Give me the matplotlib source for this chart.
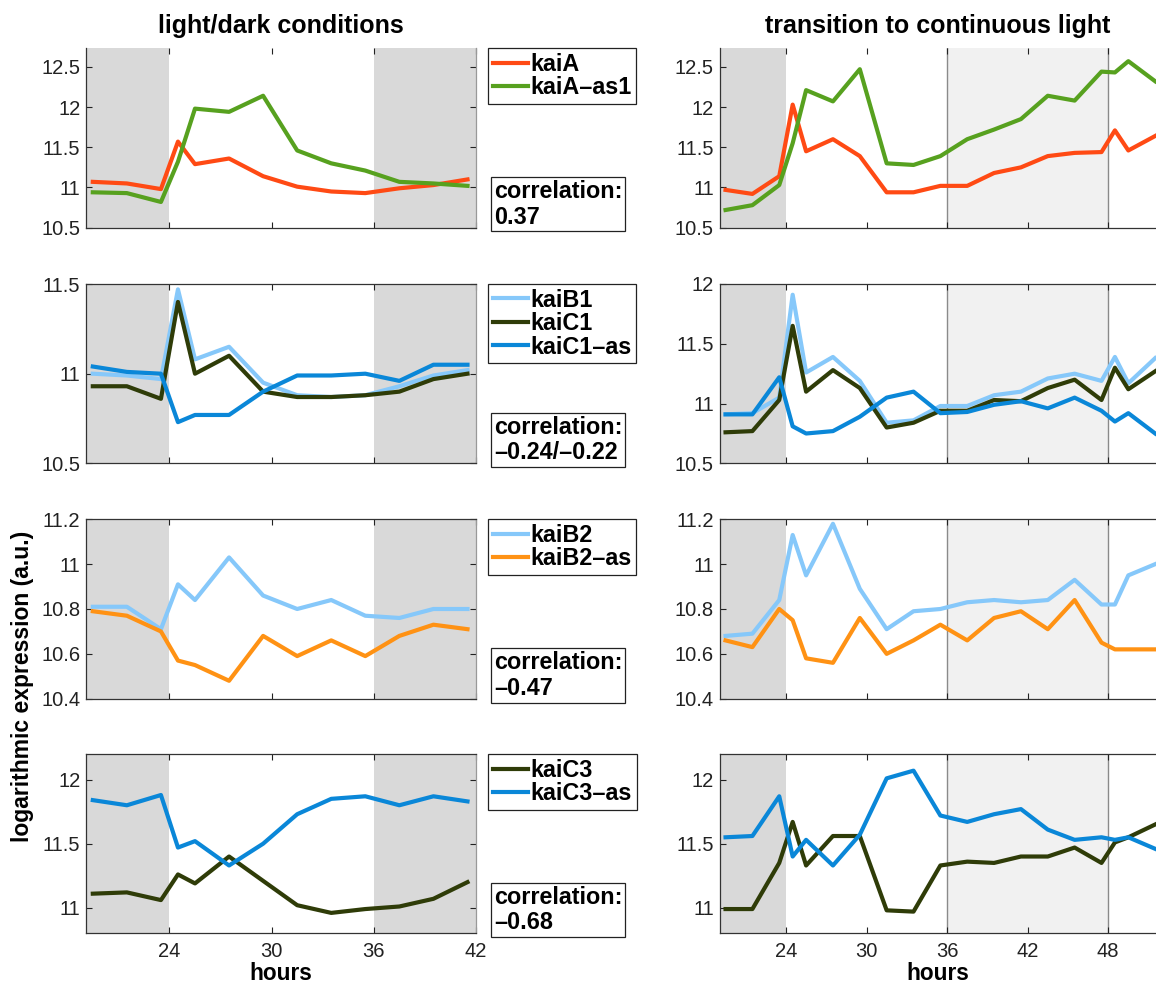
import matplotlib
matplotlib.use('Agg')
import matplotlib.pyplot as plt
from matplotlib.ticker import FuncFormatter

# time points (hours)
hours_ld = [19.5, 21.5, 23.5, 24.5, 25.5, 27.5, 29.5, 31.5, 33.5, 35.5, 37.5, 39.5, 41.5]
hours_ll = [19.5, 21.5, 23.5, 24.5, 25.5, 27.5, 29.5, 31.5, 33.5, 35.5, 37.5, 39.5, 41.5,
            43.5, 45.5, 47.5, 48.5, 49.5, 51.5]

# light/dark conditions
kaiA_ld     = [11.07, 11.05, 10.98, 11.57, 11.29, 11.36, 11.14, 11.01, 10.95, 10.93, 10.99, 11.03, 11.10]
kaiA_as1_ld = [10.94, 10.93, 10.82, 11.32, 11.98, 11.94, 12.14, 11.46, 11.30, 11.21, 11.07, 11.05, 11.02]
kaiB1_ld    = [11.00, 10.99, 10.97, 11.47, 11.08, 11.15, 10.95, 10.88, 10.87, 10.88, 10.93, 10.99, 11.02]
kaiC1_ld    = [10.93, 10.93, 10.86, 11.40, 11.00, 11.10, 10.90, 10.87, 10.87, 10.88, 10.90, 10.97, 11.00]
kaiC1_as_ld = [11.04, 11.01, 11.00, 10.73, 10.77, 10.77, 10.90, 10.99, 10.99, 11.00, 10.96, 11.05, 11.05]
kaiB2_ld    = [10.81, 10.81, 10.71, 10.91, 10.84, 11.03, 10.86, 10.80, 10.84, 10.77, 10.76, 10.80, 10.80]
kaiB2_as_ld = [10.79, 10.77, 10.70, 10.57, 10.55, 10.48, 10.68, 10.59, 10.66, 10.59, 10.68, 10.73, 10.71]
kaiC3_ld    = [11.11, 11.12, 11.06, 11.26, 11.19, 11.40, 11.21, 11.02, 10.96, 10.99, 11.01, 11.07, 11.20]
kaiC3_as_ld = [11.84, 11.80, 11.88, 11.47, 11.52, 11.33, 11.50, 11.73, 11.85, 11.87, 11.80, 11.87, 11.83]

# transition to continuous light
kaiA_ll     = [10.97, 10.92, 11.14, 12.03, 11.45, 11.60, 11.39, 10.94, 10.94, 11.02, 11.02, 11.18, 11.25,
               11.39, 11.43, 11.44, 11.71, 11.46, 11.64]
kaiA_as1_ll = [10.72, 10.78, 11.03, 11.55, 12.21, 12.07, 12.47, 11.30, 11.28, 11.39, 11.60, 11.72, 11.85,
               12.14, 12.08, 12.44, 12.43, 12.57, 12.32]
kaiB1_ll    = [10.91, 10.92, 11.05, 11.91, 11.26, 11.39, 11.19, 10.84, 10.86, 10.98, 10.98, 11.07, 11.10,
               11.21, 11.25, 11.19, 11.39, 11.17, 11.38]
kaiC1_ll    = [10.76, 10.77, 11.03, 11.65, 11.10, 11.28, 11.13, 10.80, 10.84, 10.94, 10.94, 11.03, 11.02,
               11.13, 11.20, 11.03, 11.30, 11.12, 11.27]
kaiC1_as_ll = [10.91, 10.91, 11.22, 10.81, 10.75, 10.77, 10.89, 11.05, 11.10, 10.92, 10.93, 10.99, 11.02,
               10.96, 11.05, 10.94, 10.85, 10.92, 10.75]
kaiB2_ll    = [10.68, 10.69, 10.84, 11.13, 10.95, 11.18, 10.89, 10.71, 10.79, 10.80, 10.83, 10.84, 10.83,
               10.84, 10.93, 10.82, 10.82, 10.95, 11.00]
kaiB2_as_ll = [10.66, 10.63, 10.80, 10.75, 10.58, 10.56, 10.76, 10.60, 10.66, 10.73, 10.66, 10.76, 10.79,
               10.71, 10.84, 10.65, 10.62, 10.62, 10.62]
kaiC3_ll    = [10.99, 10.99, 11.35, 11.67, 11.33, 11.56, 11.56, 10.98, 10.97, 11.33, 11.36, 11.35, 11.40,
               11.40, 11.47, 11.35, 11.51, 11.55, 11.65]
kaiC3_as_ll = [11.55, 11.56, 11.87, 11.40, 11.53, 11.33, 11.57, 12.01, 12.07, 11.72, 11.67, 11.73, 11.77,
               11.61, 11.53, 11.55, 11.53, 11.55, 11.46]

correlations = ['0.37', '\u20130.24/\u20130.22', '\u20130.47', '\u20130.68']

# colours
RED = '#ff4a14'
GREEN = '#57a11f'
LBLUE = '#86c8fa'
OLIVE = '#2f3c08'
BLUE = '#0a87d8'
ORANGE = '#ff9214'

rows = [
    [('kaiA', kaiA_ld, kaiA_ll, RED), ('kaiA\u2013as1', kaiA_as1_ld, kaiA_as1_ll, GREEN)],
    [('kaiB1', kaiB1_ld, kaiB1_ll, LBLUE), ('kaiC1', kaiC1_ld, kaiC1_ll, OLIVE),
     ('kaiC1\u2013as', kaiC1_as_ld, kaiC1_as_ll, BLUE)],
    [('kaiB2', kaiB2_ld, kaiB2_ll, LBLUE), ('kaiB2\u2013as', kaiB2_as_ld, kaiB2_as_ll, ORANGE)],
    [('kaiC3', kaiC3_ld, kaiC3_ll, OLIVE), ('kaiC3\u2013as', kaiC3_as_ld, kaiC3_as_ll, BLUE)],
]
ylims_left = [(10.5, 12.73), (10.5, 11.5), (10.4, 11.2), (10.8, 12.2)]
ylims_right = [(10.5, 12.73), (10.5, 12.0), (10.4, 11.2), (10.8, 12.2)]
yticks_left = [[10.5, 11, 11.5, 12, 12.5], [10.5, 11, 11.5], [10.4, 10.6, 10.8, 11, 11.2], [11, 11.5, 12]]
yticks_right = [[10.5, 11, 11.5, 12, 12.5], [10.5, 11, 11.5, 12], [10.4, 10.6, 10.8, 11, 11.2], [11, 11.5, 12]]

plt.rcParams['font.family'] = ['Liberation Sans', 'DejaVu Sans']

W, H = 1156, 983
fig = plt.figure(figsize=(W / 100, H / 100), dpi=100)

row_tops = [48.3, 284, 519.3, 754]
row_h = 179.4


def px_axes(x, top, w, h):
    return fig.add_axes([x / W, 1 - (top + h) / H, w / W, h / H])


fmt = FuncFormatter(lambda v, p: f'{v:g}')

for i, series in enumerate(rows):
    axL = px_axes(86, row_tops[i], 390, row_h)
    axR = px_axes(719.5, row_tops[i], 436.5, row_h)

    # left: light/dark
    axL.set_xlim(19.1, 42)
    axL.axvspan(19.1, 24, color='#d9d9d9', lw=0, zorder=0)
    axL.axvspan(36, 42, color='#d9d9d9', lw=0, zorder=0)
    # right: transition to LL
    axR.set_xlim(19.05, 51.56)
    axR.axvspan(19.05, 24, color='#d9d9d9', lw=0, zorder=0)
    axR.axvspan(36, 48, color='#f1f1f1', lw=0, zorder=0)
    axR.axvline(36, color='#8a8a8a', lw=1.0, zorder=1)
    axR.axvline(48, color='#8a8a8a', lw=1.0, zorder=1)

    handles = []
    for name, yl, yr, col in series:
        h, = axL.plot(hours_ld, yl, color=col, lw=3, label=name, zorder=3)
        axR.plot(hours_ll, yr, color=col, lw=3, zorder=3)
        handles.append(h)

    axL.set_ylim(*ylims_left[i])
    axR.set_ylim(*ylims_right[i])
    axL.set_yticks(yticks_left[i])
    axR.set_yticks(yticks_right[i])
    axL.set_xticks([24, 30, 36, 42])
    axR.set_xticks([24, 30, 36, 42, 48])

    for ax in (axL, axR):
        ax.yaxis.set_major_formatter(fmt)
        ax.tick_params(direction='in', length=4, width=0.8, top=True, right=True,
                       labelsize=14.5, colors='#222222')
        ax.tick_params(axis='x', pad=6)
        ax.tick_params(axis='y', pad=4)
        for s in ax.spines.values():
            s.set_linewidth(0.9)
            s.set_color('#333333')
        if i == 0:
            ax.spines['top'].set_visible(False)
        if i < 3:
            ax.tick_params(labelbottom=False)
        else:
            ax.set_xlabel('hours', fontsize=16.3, fontweight='bold', labelpad=1)
    axR.spines['right'].set_visible(False)
    axR.tick_params(right=False)
    axL.spines['right'].set_color('#999999')

    if i == 0:
        axL.set_title('light/dark conditions', fontsize=18, fontweight='bold', pad=11)
        axR.set_title('transition to continuous light', fontsize=18, fontweight='bold', pad=11)

    # legend box between the columns, top aligned with the axes
    leg = axL.legend(handles=handles, loc='upper left',
                     bbox_to_anchor=(488 / W, 1 - row_tops[i] / H), bbox_transform=fig.transFigure,
                     borderaxespad=0, fancybox=False, framealpha=1, edgecolor='#222222',
                     prop={'weight': 'bold', 'size': 16.8}, handlelength=1.5, handletextpad=0.12,
                     borderpad=0.2, labelspacing=0.02)
    leg.get_frame().set_linewidth(0.9)

    # correlation box, bottom aligned with the axes bottom
    bottom_px = row_tops[i] + row_h
    fig.text(494 / W, 1 - (bottom_px + 1) / H, 'correlation:\n' + correlations[i],
             ha='left', va='bottom', fontsize=16.8, fontweight='bold', linespacing=1.15,
             bbox=dict(boxstyle='square,pad=0.12', fc='white', ec='#222222', lw=0.9))

fig.text(23 / W, 1 - 686 / H, 'logarithmic expression (a.u.)', rotation=90,
         ha='center', va='center', fontsize=16.5, fontweight='bold')

fig.savefig('out.png', dpi=100)
